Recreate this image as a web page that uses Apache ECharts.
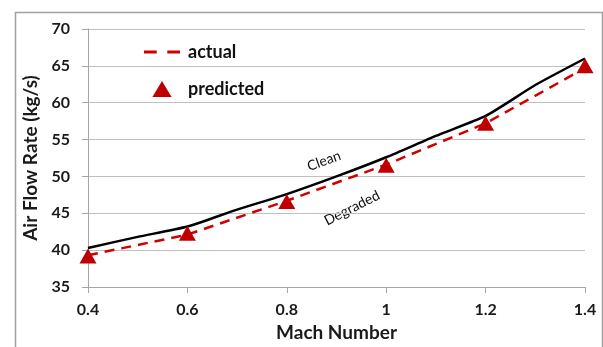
<!DOCTYPE html>
<html><head><meta charset="utf-8">
<script src="https://cdn.jsdelivr.net/npm/echarts@6/dist/echarts.min.js"></script>
<style>html,body{margin:0;padding:0;background:#fff}#c{width:603px;height:347px}</style>
</head><body><div id="c"></div>
<script>
var machClean = [0.4, 0.5, 0.6, 0.7, 0.8, 0.9, 1.0, 1.1, 1.2, 1.3, 1.4];
var cleanFlow = [40.3, 41.8, 43.2, 45.5, 47.6, 50.0, 52.6, 55.5, 58.2, 62.4, 66.0];
var mach = [0.4, 0.6, 0.8, 1.0, 1.2, 1.4];
var actualFlow = [39.3, 42.1, 46.7, 51.6, 57.2, 64.7];
var predictedFlow = [39.2, 42.3, 46.6, 51.5, 57.2, 65.0];
var yTicks = [35, 40, 45, 50, 55, 60, 65, 70];

var chart = echarts.init(document.getElementById('c'), null, {renderer: 'canvas'});
var font = 'Lato, "Open Sans", sans-serif';
chart.setOption({
  animation: false,
  grid: {left: 88, right: 18, top: 29, bottom: 58},
  xAxis: {
    type: 'value', min: 0.4, max: 1.4, interval: 0.2,
    name: 'Mach Number', nameLocation: 'middle', nameGap: 36,
    nameTextStyle: {fontFamily: font, fontWeight: 'bold', fontSize: 19, color: '#1a1a1a'},
    axisLine: {lineStyle: {color: '#a6a6a6', width: 1}},
    axisTick: {show: true, length: 6, lineStyle: {color: '#a6a6a6'}},
    axisLabel: {fontFamily: font, fontWeight: 'bold', fontSize: 16, color: '#1a1a1a', margin: 15,
      formatter: function (v) { return String(Math.round(v * 10) / 10); }},
    splitLine: {show: false}
  },
  yAxis: {
    type: 'value', min: 35, max: 70, interval: 5,
    name: 'Air Flow Rate (kg/s)', nameLocation: 'middle', nameGap: 47, nameRotate: 90,
    nameTextStyle: {fontFamily: font, fontWeight: 'bold', fontSize: 19, color: '#1a1a1a'},
    axisLine: {show: true, lineStyle: {color: '#a6a6a6', width: 1}},
    axisTick: {show: true, length: 6, lineStyle: {color: '#a6a6a6'}},
    axisLabel: {fontFamily: font, fontWeight: 'bold', fontSize: 16, color: '#1a1a1a', margin: 18},
    splitLine: {lineStyle: {color: '#bfbfbf', width: 1}}
  },
  legend: {
    orient: 'vertical', left: 139, top: 38, itemGap: 19, itemWidth: 36, itemHeight: 16,
    textStyle: {fontFamily: font, fontWeight: 'bold', fontSize: 18, color: '#111', padding: [0, 0, 0, 3]},
    data: [
      {name: 'actual', icon: 'path://M0,0h12v3h-12z M22,0h12v3h-12z', itemHeight: 3},
      {name: 'predicted', icon: 'path://M9,0L18,15L0,15Z'}
    ]
  },
  series: [
    {name: 'Clean', type: 'line', symbol: 'none', smooth: 0.2,
     data: machClean.map(function (m, i) { return [m, cleanFlow[i]]; }),
     lineStyle: {color: '#000', width: 2.5}, z: 2},
    {name: 'actual', type: 'line', symbol: 'none',
     data: mach.map(function (m, i) { return [m, actualFlow[i]]; }),
     lineStyle: {color: '#d00000', width: 2.5, type: [10, 7]}, itemStyle: {color: '#d00000'}, z: 3},
    {name: 'predicted', type: 'scatter', symbol: 'triangle', symbolSize: [17, 15],
     data: mach.map(function (m, i) { return [m, predictedFlow[i]]; }),
     itemStyle: {color: '#c00000', opacity: 1}, z: 4}
  ],
  graphic: [
    {type: 'rect', left: 13, top: 10, shape: {width: 587, height: 345},
     style: {fill: 'none', stroke: '#a0a0a0', lineWidth: 1.5}, silent: true},
    {type: 'text', x: 324, y: 161, rotation: 20 * Math.PI / 180,
     style: {text: 'Clean', fontFamily: font, fontSize: 14, fill: '#111', textAlign: 'center', textVerticalAlign: 'middle'}},
    {type: 'text', x: 352, y: 208, rotation: 27 * Math.PI / 180,
     style: {text: 'Degraded', fontFamily: font, fontSize: 14, fill: '#111', textAlign: 'center', textVerticalAlign: 'middle'}}
  ]
});
</script></body></html>
